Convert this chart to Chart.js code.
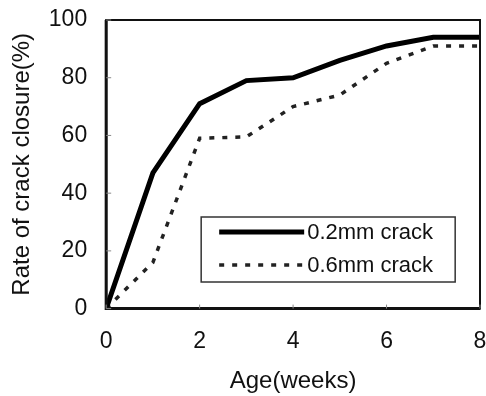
<!DOCTYPE html>
<html>
<head>
<meta charset="utf-8">
<script src="https://cdn.jsdelivr.net/npm/chart.js@4"></script>
<style>
  html, body { margin: 0; padding: 0; background: #fff; }
  #wrap { width: 486px; height: 396px; }
</style>
</head>
<body>
<div id="wrap"><canvas id="chart" width="486" height="396"></canvas></div>
<script>
// weeks of age
const weeks = [0, 1, 2, 3, 4, 5, 6, 7, 8];
// rate of crack closure (%)
const crack02 = [0, 47, 71, 79, 80, 86, 91, 94, 94];
const crack06 = [0, 16, 59, 59.5, 70, 74, 85, 91, 91];
const seriesLabels = ['0.2mm crack', '0.6mm crack'];
const xTicks = [0, 2, 4, 6, 8];
const yTicks = [0, 20, 40, 60, 80, 100];

const FONT = 'Liberation Sans, Arial, sans-serif';
const INK = '#111';

// frame round the plot area
const frame = {
  id: 'frame',
  afterDatasetsDraw(chart) {
    const { ctx, chartArea: a } = chart;
    ctx.save();
    ctx.strokeStyle = INK;
    ctx.lineWidth = 2;
    ctx.strokeRect(a.left, a.top, a.right - a.left, a.bottom - a.top);
    ctx.lineWidth = 3;
    ctx.beginPath();
    ctx.moveTo(a.left, a.top);
    ctx.lineTo(a.left, a.bottom);
    ctx.lineTo(a.right, a.bottom);
    ctx.stroke();
    // small inward tick marks
    ctx.lineWidth = 1;
    ctx.strokeStyle = '#888';
    const xs = chart.scales.x, ys = chart.scales.y;
    yTicks.forEach(v => {
      const y = ys.getPixelForValue(v);
      ctx.beginPath(); ctx.moveTo(a.left, y); ctx.lineTo(a.left + 5, y); ctx.stroke();
    });
    xTicks.forEach(v => {
      const x = xs.getPixelForValue(v);
      ctx.beginPath(); ctx.moveTo(x, a.bottom); ctx.lineTo(x, a.bottom - 4); ctx.stroke();
    });
    ctx.restore();
  }
};

// boxed legend inside the plot
const boxLegend = {
  id: 'boxLegend',
  afterDraw(chart) {
    const { ctx, chartArea: a } = chart;
    const left = a.left + 95, top = a.top + 197, w = 254, h = 65;
    ctx.save();
    ctx.fillStyle = '#fff';
    ctx.fillRect(left, top, w, h);
    ctx.strokeStyle = '#333';
    ctx.lineWidth = 1.5;
    ctx.strokeRect(left, top, w, h);
    ctx.font = '22px ' + FONT;
    ctx.textBaseline = 'middle';
    chart.data.datasets.forEach((ds, i) => {
      const y = top + 15 + i * 33;
      ctx.strokeStyle = ds.borderColor;
      ctx.lineWidth = ds.borderWidth;
      ctx.setLineDash(ds.borderDash || []);
      ctx.beginPath(); ctx.moveTo(left + 18, y); ctx.lineTo(left + 103, y); ctx.stroke();
      ctx.setLineDash([]);
      ctx.fillStyle = INK;
      ctx.fillText(ds.label, left + 106, y + 1);
    });
    ctx.restore();
  }
};

const toPoints = arr => weeks.map((w, i) => ({ x: w, y: arr[i] }));

// invisible tick marks used as the gap between axis and labels
const gapGrid = { display: true, drawOnChartArea: false, drawTicks: true, tickLength: 19, color: 'rgba(0,0,0,0)' };

new Chart(document.getElementById('chart'), {
  type: 'line',
  data: {
    datasets: [
      { label: seriesLabels[0], data: toPoints(crack02), borderColor: '#000', borderWidth: 5, pointRadius: 0, fill: false, tension: 0 },
      { label: seriesLabels[1], data: toPoints(crack06), borderColor: '#222', borderWidth: 3.5, borderDash: [5, 8], pointRadius: 0, fill: false, tension: 0 }
    ]
  },
  options: {
    responsive: false,
    animation: false,
    layout: { padding: { left: 8, right: 6, top: 20, bottom: 0 } },
    plugins: { legend: { display: false }, tooltip: { enabled: false } },
    scales: {
      x: {
        type: 'linear', min: 0, max: 8,
        afterBuildTicks: s => { s.ticks = xTicks.map(v => ({ value: v })); },
        afterFit: s => { s.paddingRight = 6; },
        grid: gapGrid,
        border: { display: false },
        ticks: { color: INK, font: { family: FONT, size: 23 }, padding: 0, maxRotation: 0 },
        title: { display: true, text: 'Age(weeks)', color: INK, font: { family: FONT, size: 24 }, padding: { top: 12, bottom: 0 } }
      },
      y: {
        min: 0, max: 100,
        afterBuildTicks: s => { s.ticks = yTicks.map(v => ({ value: v })); },
        grid: gapGrid,
        border: { display: false },
        ticks: { color: INK, font: { family: FONT, size: 23 }, padding: 0 },
        title: { display: true, text: 'Rate of crack closure(%)', color: INK, font: { family: FONT, size: 24 }, padding: { top: 0, bottom: 12 } }
      }
    }
  },
  plugins: [frame, boxLegend]
});
</script>
</body>
</html>
